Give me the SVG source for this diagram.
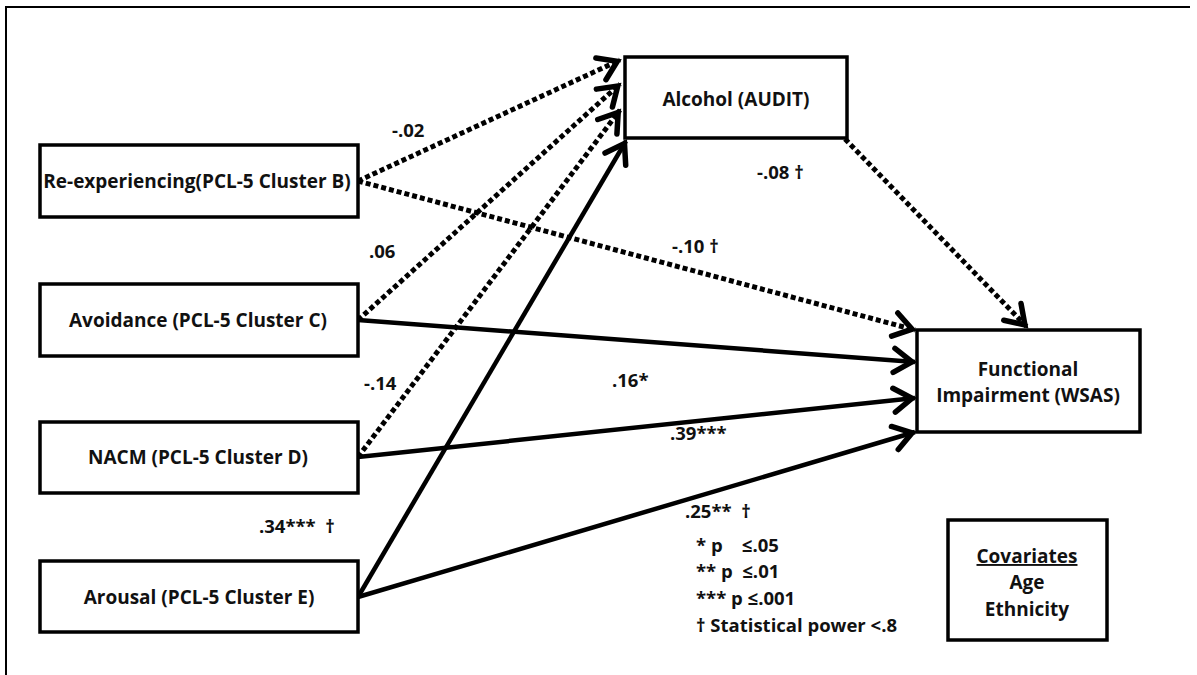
<svg xmlns="http://www.w3.org/2000/svg" width="1197" height="675" viewBox="0 0 1197 675">
<style>
  text { font-family: "Open Sans", "Liberation Sans", sans-serif; font-weight: bold; font-size: 18.5px; fill: #111; }
  .node text { font-size: 19px; }
  .box { fill: #fff; stroke: #000; stroke-width: 3.5; }
  .mid { text-anchor: middle; }
  .solid { fill: none; stroke: #000; stroke-width: 4.5; }
  .dash { fill: none; stroke: #000; stroke-width: 5; stroke-dasharray: 5 3; }
  .frame { fill: none; stroke: #000; stroke-width: 2; }
</style>
<defs>
  <marker id="arr" markerUnits="userSpaceOnUse" markerWidth="36" markerHeight="36" viewBox="0 0 36 36" refX="30" refY="18" orient="auto">
    <path d="M9,6 L27,18 L9,30" fill="none" stroke="#000" stroke-width="5.5" stroke-linejoin="miter" stroke-miterlimit="6" stroke-linecap="round"/>
  </marker>
</defs>
<rect width="1197" height="675" fill="#fff"/>
<path class="frame" d="M6,675 L6,7 L1190,7"/>

<g id="connectors">
  <line class="dash" x1="358" y1="181" x2="620" y2="60" marker-end="url(#arr)"/>
  <line class="dash" x1="358" y1="320" x2="620" y2="84" marker-end="url(#arr)"/>
  <line class="dash" x1="358" y1="457" x2="620" y2="110" marker-end="url(#arr)"/>
  <line class="solid" x1="358" y1="597" x2="626" y2="141" marker-end="url(#arr)"/>
  <line class="dash" x1="358" y1="181" x2="915" y2="330" marker-end="url(#arr)"/>
  <line class="dash" x1="845" y1="139" x2="1027" y2="327" marker-end="url(#arr)"/>
  <line class="solid" x1="358" y1="320" x2="915" y2="362" marker-end="url(#arr)"/>
  <line class="solid" x1="358" y1="457" x2="915" y2="398" marker-end="url(#arr)"/>
  <line class="solid" x1="358" y1="597" x2="915" y2="432" marker-end="url(#arr)"/>
</g>

<g id="edge-labels">
  <text x="392" y="137">-.02</text>
  <text x="369" y="258">.06</text>
  <text x="364" y="390">-.14</text>
  <text x="259" y="533" xml:space="preserve">.34***  †</text>
  <text x="672" y="253">-.10 †</text>
  <text x="757" y="179">-.08 †</text>
  <text x="612" y="387">.16*</text>
  <text x="670" y="440">.39***</text>
  <text x="685" y="518" xml:space="preserve">.25**  †</text>
</g>

<g id="node-reexp" class="node">
  <rect class="box" x="40" y="145" width="318" height="72"/>
  <text class="mid" x="197" y="188">Re-experiencing(PCL-5 Cluster B)</text>
</g>
<g id="node-avoid" class="node">
  <rect class="box" x="40" y="284" width="318" height="72"/>
  <text class="mid" x="198" y="327">Avoidance (PCL-5 Cluster C)</text>
</g>
<g id="node-nacm" class="node">
  <rect class="box" x="40" y="422" width="318" height="71"/>
  <text class="mid" x="198" y="464">NACM (PCL-5 Cluster D)</text>
</g>
<g id="node-arousal" class="node">
  <rect class="box" x="40" y="561" width="318" height="71"/>
  <text class="mid" x="199" y="604">Arousal (PCL-5 Cluster E)</text>
</g>
<g id="node-alcohol" class="node">
  <rect class="box" x="625" y="57" width="222" height="81"/>
  <text class="mid" x="736" y="106">Alcohol (AUDIT)</text>
</g>
<g id="node-functional" class="node">
  <rect class="box" x="917" y="330" width="223" height="102"/>
  <text class="mid" x="1028" y="376">Functional</text>
  <text class="mid" x="1028" y="402">Impairment (WSAS)</text>
</g>
<g id="node-covariates" class="node">
  <rect class="box" x="948" y="520" width="159" height="120"/>
  <text class="mid" x="1027" y="563" text-decoration="underline">Covariates</text>
  <text class="mid" x="1027" y="589">Age</text>
  <text class="mid" x="1027" y="616">Ethnicity</text>
</g>
<g id="legend">
  <text x="696" y="552" xml:space="preserve">* p    ≤.05</text>
  <text x="696" y="578" xml:space="preserve">** p  ≤.01</text>
  <text x="696" y="605">*** p ≤.001</text>
  <text x="696" y="632">† Statistical power &lt;.8</text>
</g>
</svg>
